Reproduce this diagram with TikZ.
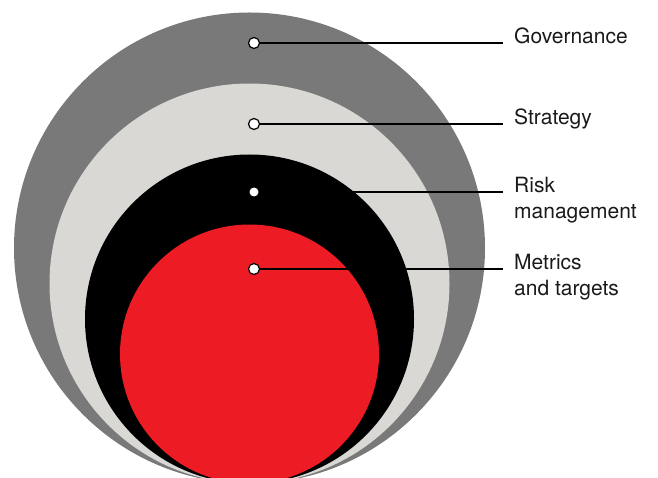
\documentclass[tikz,border=0pt]{standalone}
\usepackage{fontspec}
\setmainfont{TeX Gyre Heros}
\usetikzlibrary{positioning}
\definecolor{TcfdGrey}{HTML}{787978}
\definecolor{TcfdLight}{HTML}{D9D8D5}
\definecolor{TcfdRed}{HTML}{ED1C24}
\definecolor{TcfdInk}{HTML}{1A1A1A}
\tikzset{
  tcfd dot/.style={
    circle,
    draw=black,
    fill=white,
    line width=1.2pt,
    minimum size=11pt,
    inner sep=0pt
  },
  tcfd dot plain/.style={
    circle,
    fill=white,
    minimum size=9pt,
    inner sep=0pt
  },
  tcfd leader/.style={draw=black,line width=1.3pt},
  tcfd label/.style={
    anchor=north west,
    text=TcfdInk,
    align=left,
    inner xsep=11pt,
    inner ysep=0pt,
    font=\fontsize{21}{26}\selectfont
  }
}

\begin{document}
\begin{tikzpicture}[x=1pt,y=1pt]
  \useasboundingbox (0,0) rectangle (658,477);
  \clip (0,0) rectangle (658,477);

  % nested rings, all touching at the bottom
  \fill[TcfdGrey] (249.5,229) circle[radius=235.5];
  \fill[TcfdLight] (249.5,193.5) circle[radius=200];
  \fill[black] (249.5,158) circle[radius=164.5];
  \fill[TcfdRed] (249.5,123) circle[radius=129.5];

  \node[tcfd dot] (governance dot) at (254,434) {};
  \node[tcfd dot] (strategy dot) at (254,353) {};
  \node[tcfd dot plain] (risk dot) at (254,285) {};
  \node[tcfd dot] (metrics dot) at (254,208) {};

  % labels hang from their first baseline
  \node[tcfd label] (governance) at (503,449) {Governance};
  \node[tcfd label] (strategy) at (503,368) {Strategy};
  \node[tcfd label] (risk) at (503,300) {Risk\\management};
  \node[tcfd label] (metrics) at (503,223) {Metrics\\and targets};

  \draw[tcfd leader] (governance dot) -- (governance dot -| governance.west);
  \draw[tcfd leader] (strategy dot) -- (strategy dot -| strategy.west);
  \draw[tcfd leader] (risk dot) -- (risk dot -| risk.west);
  \draw[tcfd leader] (metrics dot) -- (metrics dot -| metrics.west);
\end{tikzpicture}
\end{document}
